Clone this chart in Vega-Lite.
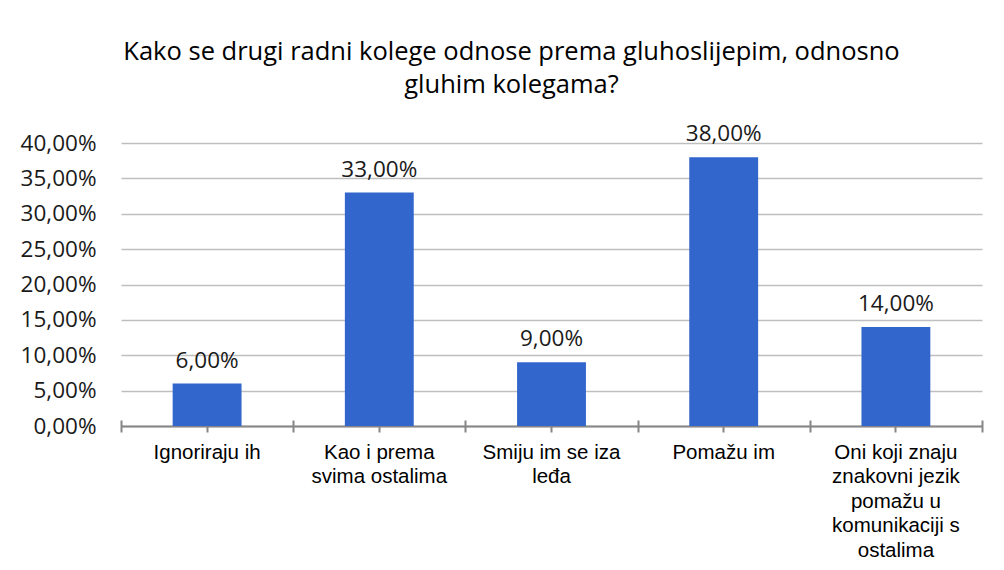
{
  "$schema": "https://vega.github.io/schema/vega-lite/v6.json",
  "width": 861,
  "height": 283,
  "autosize": {"type": "none"},
  "padding": {"left": 121, "top": 143, "right": 22, "bottom": 144},
  "background": "white",
  "config": {
    "locale": {"number": {"decimal": ",", "thousands": ".", "grouping": [3], "currency": ["", " €"]}},
    "view": {"stroke": null},
    "font": "Open Sans"
  },
  "title": {
    "text": ["Kako se drugi radni kolege odnose prema gluhoslijepim, odnosno", "gluhim kolegama?"],
    "font": "Open Sans",
    "fontSize": 25.5,
    "fontWeight": "normal",
    "color": "#000000",
    "anchor": "middle",
    "dx": -40,
    "offset": 25,
    "lineHeight": 33
  },
  "data": {
    "values": [
      {"odgovor": "Ignoriraju ih", "udio": 0.06},
      {"odgovor": "Kao i prema svima ostalima", "udio": 0.33},
      {"odgovor": "Smiju im se iza leđa", "udio": 0.09},
      {"odgovor": "Pomažu im", "udio": 0.38},
      {"odgovor": "Oni koji znaju znakovni jezik pomažu u komunikaciji s ostalima", "udio": 0.14}
    ]
  },
  "resolve": {"axis": {"x": "independent"}},
  "layer": [
    {
      "mark": {"type": "bar", "width": {"band": 0.4}, "color": "#3366CC"},
      "encoding": {
        "x": {
          "field": "odgovor", "type": "nominal", "sort": null,
          "scale": {"paddingInner": 0, "paddingOuter": 0},
          "axis": {
            "orient": "bottom", "title": null, "labelAngle": 0,
            "domain": true, "domainColor": "#868686", "domainWidth": 2,
            "ticks": true, "tickSize": 6, "tickColor": "#868686", "tickWidth": 2,
            "labelPadding": 10,
            "labelFont": "Liberation Sans", "labelFontSize": 20.5, "labelColor": "#000000",
            "labelLineHeight": 24.5, "labelBaseline": "top", "labelOverlap": false, "labelLimit": 300,
            "labelExpr": "{'Kao i prema svima ostalima': ['Kao i prema', 'svima ostalima'], 'Smiju im se iza leđa': ['Smiju im se iza', 'leđa'], 'Oni koji znaju znakovni jezik pomažu u komunikaciji s ostalima': ['Oni koji znaju', 'znakovni jezik', 'pomažu u', 'komunikaciji s', 'ostalima']}[datum.value] || datum.value"
          }
        },
        "y": {
          "field": "udio", "type": "quantitative",
          "scale": {"domain": [0, 0.4], "nice": false},
          "axis": {
            "title": null, "format": ".2%", "tickCount": 8,
            "domain": false, "ticks": false, "labelPadding": 25, "labelOverlap": false, "labelSeparation": 0,
            "labelFont": "Open Sans", "labelFontSize": 22.5, "labelColor": "#1a1a1a",
            "gridColor": "#BFBFBF", "gridWidth": 1.5
          }
        }
      }
    },
    {
      "mark": {"type": "text", "baseline": "alphabetic", "dy": -16, "font": "Open Sans", "fontSize": 22.5, "color": "#1a1a1a"},
      "encoding": {
        "x": {
          "field": "odgovor", "type": "nominal", "sort": null,
          "axis": {
            "orient": "bottom", "title": null, "offset": -6, "domain": false, "labels": false,
            "ticks": true, "tickBand": "extent", "tickSize": 12, "tickColor": "#868686", "tickWidth": 2, "grid": false
          }
        },
        "y": {"field": "udio", "type": "quantitative"},
        "text": {"field": "udio", "type": "quantitative", "format": ".2%"}
      }
    }
  ]
}
